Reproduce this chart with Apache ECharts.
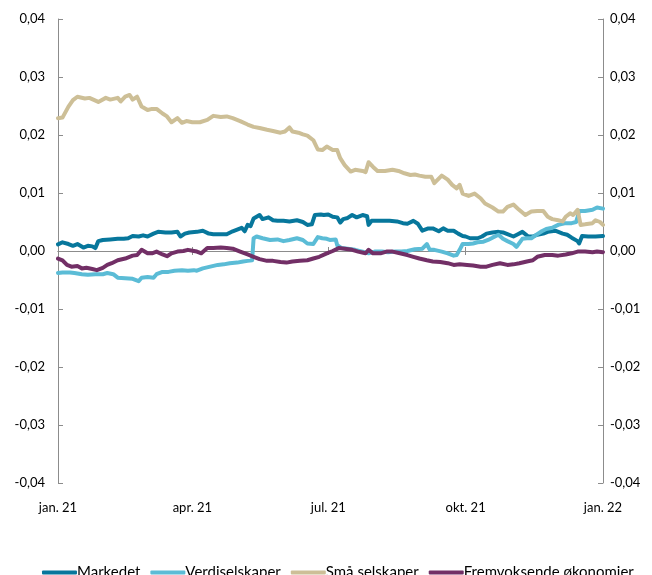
<!DOCTYPE html>
<html><head><meta charset="utf-8">
<script src="https://cdn.jsdelivr.net/npm/echarts@6/dist/echarts.min.js"></script>
<style>html,body{margin:0;padding:0;background:#fff}#c{width:652px;height:575px}</style>
</head><body><div id="c"></div>
<script>
const tickDates = ['2021-01-01','2021-04-01','2021-07-01','2021-10-01','2022-01-01'];
const tickLabels = ['jan. 21','apr. 21','jul. 21','okt. 21','jan. 22'];
const seriesNames = ['Markedet','Verdiselskaper','Små selskaper','Fremvoksende økonomier'];
const seriesColors = ['#07779c','#5bbcd6','#cdbf97','#722f66'];

const markedet = [
['2021-01-01',0.00115],['2021-01-04',0.0015],['2021-01-08',0.0012],['2021-01-11',0.0009],['2021-01-14',0.0012],
['2021-01-18',0.0006],['2021-01-21',0.0009],['2021-01-24',0.0008],['2021-01-26',0.0005],['2021-01-28',0.0017],
['2021-01-31',0.0019],['2021-02-05',0.0020],['2021-02-10',0.0021],['2021-02-14',0.0021],['2021-02-17',0.0022],
['2021-02-20',0.0026],['2021-02-24',0.0025],['2021-02-27',0.0027],['2021-03-02',0.0025],['2021-03-06',0.0030],
['2021-03-09',0.0033],['2021-03-14',0.0032],['2021-03-18',0.0032],['2021-03-22',0.0033],['2021-03-24',0.0025],
['2021-03-27',0.0030],['2021-03-30',0.0032],['2021-04-04',0.0033],['2021-04-08',0.0035],['2021-04-12',0.0030],
['2021-04-15',0.0029],['2021-04-20',0.0029],['2021-04-24',0.0029],['2021-04-28',0.0034],['2021-05-01',0.0037],
['2021-05-04',0.0040],['2021-05-06',0.0034],['2021-05-08',0.0045],['2021-05-10',0.0043],['2021-05-12',0.0056],
['2021-05-14',0.0059],['2021-05-16',0.0062],['2021-05-18',0.0055],['2021-05-22',0.0058],['2021-05-25',0.0053],
['2021-05-28',0.0052],['2021-06-01',0.0052],['2021-06-05',0.0051],['2021-06-10',0.0053],['2021-06-14',0.0050],
['2021-06-17',0.0045],['2021-06-20',0.0046],['2021-06-22',0.0062],['2021-06-26',0.0063],['2021-06-28',0.0062],
['2021-07-01',0.0063],['2021-07-04',0.0059],['2021-07-07',0.0058],['2021-07-09',0.0049],['2021-07-11',0.0055],
['2021-07-14',0.0057],['2021-07-17',0.0062],['2021-07-20',0.0058],['2021-07-24',0.0062],['2021-07-27',0.0060],
['2021-07-28',0.0045],['2021-07-30',0.0052],['2021-08-03',0.0052],['2021-08-07',0.0052],['2021-08-11',0.0052],
['2021-08-16',0.0051],['2021-08-20',0.0048],['2021-08-23',0.0047],['2021-08-27',0.0052],['2021-08-30',0.0047],
['2021-09-02',0.0035],['2021-09-06',0.0039],['2021-09-09',0.0039],['2021-09-13',0.0034],['2021-09-16',0.0039],
['2021-09-19',0.0035],['2021-09-23',0.0035],['2021-09-26',0.0030],['2021-09-29',0.0026],['2021-10-01',0.0025],
['2021-10-04',0.0022],['2021-10-09',0.0022],['2021-10-12',0.0025],['2021-10-15',0.0030],['2021-10-19',0.0032],
['2021-10-23',0.0033],['2021-10-26',0.0032],['2021-10-29',0.0029],['2021-11-02',0.0025],['2021-11-05',0.0029],
['2021-11-08',0.0033],['2021-11-12',0.0025],['2021-11-15',0.0025],['2021-11-18',0.0028],['2021-11-22',0.0030],
['2021-11-25',0.0033],['2021-11-30',0.0035],['2021-12-05',0.0030],['2021-12-08',0.0028],['2021-12-11',0.0023],
['2021-12-15',0.0017],['2021-12-16',0.0013],['2021-12-18',0.0026],['2021-12-22',0.0025],['2021-12-27',0.0025],
['2022-01-01',0.0026]
];

const verdiselskaper = [
['2021-01-01',-0.0038],['2021-01-04',-0.0037],['2021-01-09',-0.0037],['2021-01-12',-0.0038],['2021-01-17',-0.0040],
['2021-01-21',-0.0041],['2021-01-26',-0.0040],['2021-01-31',-0.0040],['2021-02-03',-0.0038],['2021-02-07',-0.0040],
['2021-02-10',-0.0046],['2021-02-15',-0.0047],['2021-02-20',-0.0048],['2021-02-24',-0.0052],['2021-02-26',-0.0046],
['2021-03-02',-0.0045],['2021-03-06',-0.0046],['2021-03-08',-0.0040],['2021-03-12',-0.0036],['2021-03-16',-0.0036],
['2021-03-20',-0.0034],['2021-03-25',-0.0033],['2021-03-29',-0.0034],['2021-04-02',-0.0033],['2021-04-04',-0.0034],
['2021-04-08',-0.0030],['2021-04-13',-0.0027],['2021-04-18',-0.0024],['2021-04-22',-0.0023],['2021-04-26',-0.0021],
['2021-05-01',-0.0020],['2021-05-05',-0.0018],['2021-05-08',-0.0017],['2021-05-11',-0.0016],['2021-05-12',0.0022],
['2021-05-14',0.0025],['2021-05-18',0.0022],['2021-05-23',0.0019],['2021-05-28',0.0020],['2021-06-01',0.0017],
['2021-06-05',0.0019],['2021-06-10',0.0022],['2021-06-14',0.0019],['2021-06-17',0.0013],['2021-06-21',0.0012],
['2021-06-24',0.0024],['2021-06-27',0.0022],['2021-06-30',0.0021],['2021-07-02',0.0019],['2021-07-06',0.0020],
['2021-07-07',0.0010],['2021-07-10',0.0005],['2021-07-14',0.0004],['2021-07-19',0.0002],['2021-07-24',-0.0001],
['2021-07-28',-0.0004],['2021-08-01',-0.0001],['2021-08-06',-0.0001],['2021-08-10',-0.0002],['2021-08-15',-0.0001],
['2021-08-19',-0.0001],['2021-08-23',0.0000],['2021-08-28',0.0003],['2021-09-02',0.0004],['2021-09-05',0.0012],
['2021-09-07',0.0002],['2021-09-10',0.0002],['2021-09-15',-0.0001],['2021-09-19',-0.0004],['2021-09-23',-0.0008],
['2021-09-25',-0.0007],['2021-09-27',0.0002],['2021-09-29',0.0012],['2021-10-03',0.0012],['2021-10-06',0.0013],
['2021-10-09',0.0015],['2021-10-13',0.0016],['2021-10-16',0.0019],['2021-10-19',0.0023],['2021-10-23',0.0028],
['2021-10-26',0.0021],['2021-10-29',0.0017],['2021-11-02',0.0012],['2021-11-04',0.0007],['2021-11-08',0.0021],
['2021-11-11',0.0022],['2021-11-14',0.0022],['2021-11-18',0.0029],['2021-11-21',0.0034],['2021-11-24',0.0038],
['2021-11-28',0.0040],['2021-12-02',0.0045],['2021-12-07',0.0048],['2021-12-11',0.0048],['2021-12-14',0.0050],
['2021-12-15',0.0059],['2021-12-16',0.0069],['2021-12-20',0.0069],['2021-12-25',0.0071],['2021-12-28',0.0075],
['2022-01-01',0.0073]
];

const smaSelskaper = [
['2021-01-01',0.0229],['2021-01-04',0.0230],['2021-01-08',0.0249],['2021-01-11',0.0260],['2021-01-14',0.0266],
['2021-01-19',0.0263],['2021-01-22',0.0264],['2021-01-28',0.0257],['2021-02-02',0.0264],['2021-02-05',0.0261],
['2021-02-10',0.0264],['2021-02-12',0.0258],['2021-02-15',0.0266],['2021-02-18',0.0269],['2021-02-20',0.0261],
['2021-02-23',0.0266],['2021-02-26',0.0249],['2021-03-02',0.0243],['2021-03-05',0.0245],['2021-03-08',0.0245],
['2021-03-12',0.0237],['2021-03-15',0.0232],['2021-03-18',0.0222],['2021-03-22',0.0229],['2021-03-25',0.0221],
['2021-03-28',0.0224],['2021-04-01',0.0222],['2021-04-06',0.0222],['2021-04-11',0.0226],['2021-04-15',0.0233],
['2021-04-20',0.0231],['2021-04-24',0.0232],['2021-04-28',0.0229],['2021-05-03',0.0224],['2021-05-08',0.0218],
['2021-05-12',0.0214],['2021-05-16',0.0212],['2021-05-21',0.0209],['2021-05-25',0.0207],['2021-05-30',0.0204],
['2021-06-02',0.0206],['2021-06-05',0.0213],['2021-06-07',0.0206],['2021-06-11',0.0204],['2021-06-14',0.0201],
['2021-06-17',0.0199],['2021-06-21',0.0191],['2021-06-24',0.0175],['2021-06-27',0.0174],['2021-06-30',0.0180],
['2021-07-04',0.0174],['2021-07-07',0.0174],['2021-07-09',0.0160],['2021-07-12',0.0148],['2021-07-16',0.0137],
['2021-07-19',0.0140],['2021-07-24',0.0138],['2021-07-26',0.0136],['2021-07-28',0.0153],['2021-07-31',0.0145],
['2021-08-03',0.0138],['2021-08-08',0.0138],['2021-08-13',0.0140],['2021-08-17',0.0138],['2021-08-21',0.0134],
['2021-08-25',0.0131],['2021-08-28',0.0132],['2021-08-31',0.0130],['2021-09-04',0.0128],['2021-09-08',0.0128],
['2021-09-10',0.0117],['2021-09-15',0.0130],['2021-09-19',0.0123],['2021-09-22',0.0114],['2021-09-25',0.0108],
['2021-09-27',0.0114],['2021-09-29',0.0099],['2021-10-03',0.0095],['2021-10-07',0.0099],['2021-10-11',0.0091],
['2021-10-14',0.0082],['2021-10-19',0.0075],['2021-10-23',0.0068],['2021-10-26',0.0068],['2021-10-29',0.0076],
['2021-11-02',0.0080],['2021-11-05',0.0073],['2021-11-10',0.0062],['2021-11-14',0.0068],['2021-11-18',0.0069],
['2021-11-22',0.0069],['2021-11-25',0.0059],['2021-11-28',0.0055],['2021-12-02',0.0053],['2021-12-05',0.0051],
['2021-12-07',0.0059],['2021-12-10',0.0065],['2021-12-12',0.0062],['2021-12-15',0.0071],['2021-12-16',0.0074],
['2021-12-17',0.0045],['2021-12-20',0.0046],['2021-12-25',0.0048],['2021-12-27',0.0053],['2021-12-30',0.0050],
['2022-01-01',0.0045]
];

const fremvoksende = [
['2021-01-01',-0.0013],['2021-01-04',-0.0016],['2021-01-07',-0.0024],['2021-01-10',-0.0027],['2021-01-14',-0.0026],
['2021-01-17',-0.0030],['2021-01-20',-0.0029],['2021-01-24',-0.0031],['2021-01-27',-0.0033],['2021-01-31',-0.0029],
['2021-02-03',-0.0024],['2021-02-06',-0.0021],['2021-02-10',-0.0016],['2021-02-15',-0.0013],['2021-02-20',-0.0008],
['2021-02-23',-0.0007],['2021-02-26',0.0002],['2021-03-02',-0.0004],['2021-03-05',-0.0004],['2021-03-08',-0.0001],
['2021-03-12',-0.0006],['2021-03-15',-0.0009],['2021-03-18',-0.0004],['2021-03-22',-0.0001],['2021-03-26',0.0000],
['2021-03-29',0.0002],['2021-04-02',0.0000],['2021-04-04',-0.0001],['2021-04-07',-0.0004],['2021-04-11',0.0005],
['2021-04-15',0.0005],['2021-04-20',0.0006],['2021-04-24',0.0005],['2021-04-28',0.0004],['2021-05-03',-0.0001],
['2021-05-08',-0.0006],['2021-05-12',-0.0010],['2021-05-16',-0.0014],['2021-05-21',-0.0017],['2021-05-25',-0.0017],
['2021-05-30',-0.0019],['2021-06-03',-0.0020],['2021-06-07',-0.0018],['2021-06-12',-0.0017],['2021-06-17',-0.0016],
['2021-06-21',-0.0013],['2021-06-25',-0.0010],['2021-06-30',-0.0004],['2021-07-04',0.0000],['2021-07-08',0.0005],
['2021-07-12',0.0004],['2021-07-17',0.0002],['2021-07-21',-0.0001],['2021-07-26',-0.0004],['2021-07-28',0.0002],
['2021-07-31',-0.0004],['2021-08-05',-0.0004],['2021-08-09',-0.0001],['2021-08-13',-0.0001],['2021-08-18',-0.0004],
['2021-08-23',-0.0007],['2021-08-27',-0.0010],['2021-08-31',-0.0013],['2021-09-05',-0.0016],['2021-09-09',-0.0018],
['2021-09-14',-0.0019],['2021-09-19',-0.0021],['2021-09-23',-0.0024],['2021-09-27',-0.0023],['2021-10-02',-0.0024],
['2021-10-06',-0.0025],['2021-10-11',-0.0027],['2021-10-15',-0.0027],['2021-10-19',-0.0024],['2021-10-24',-0.0021],
['2021-10-29',-0.0024],['2021-11-02',-0.0023],['2021-11-06',-0.0021],['2021-11-11',-0.0018],['2021-11-15',-0.0016],
['2021-11-18',-0.0010],['2021-11-23',-0.0007],['2021-11-28',-0.0007],['2021-12-02',-0.0008],['2021-12-07',-0.0006],
['2021-12-11',-0.0004],['2021-12-15',-0.0001],['2021-12-16',0.0002],['2021-12-20',-0.0001],['2021-12-25',-0.0002],
['2021-12-28',-0.0001],['2022-01-01',-0.0002]
];

const seriesData = [markedet, verdiselskaper, smaSelskaper, fremvoksende];

const t = s => new Date(s + 'T00:00:00').getTime();
const tickValues = tickDates.map(t);
const xMin = tickValues[0], xMax = tickValues[tickValues.length - 1];
const FONT = 'Lato';
const AXIS_GREY = '#8c8c8c';

const fmtY = v => (Math.abs(v) < 1e-9 ? 0 : v).toFixed(2).replace('.', ',');
const fmtX = v => {
  let best = 0;
  tickValues.forEach((tv, i) => { if (Math.abs(tv - v) < Math.abs(tickValues[best] - v)) best = i; });
  return tickLabels[best];
};

const zeroAxis = inside => ({
  type: 'value', gridIndex: 0, position: 'bottom', min: xMin, max: xMax,
  axisLine: { show: true, onZero: true, onZeroAxisIndex: 0, lineStyle: { color: AXIS_GREY, width: 1 } },
  axisTick: { show: true, inside: inside, length: 4, customValues: tickValues, lineStyle: { color: AXIS_GREY, width: 1 } },
  axisLabel: { show: false },
  splitLine: { show: false }
});

const yAxisBase = (pos, margin) => ({
  type: 'value', position: pos, min: -0.04, max: 0.04, interval: 0.01,
  axisLine: { show: true, onZero: false, lineStyle: { color: AXIS_GREY, width: 1 } },
  axisTick: { show: true, inside: true, length: 5, lineStyle: { color: AXIS_GREY, width: 1 } },
  axisLabel: { formatter: fmtY, color: '#000', fontFamily: FONT, fontSize: 13, margin: margin },
  splitLine: { show: false }
});

const chart = echarts.init(document.getElementById('c'), null, { renderer: 'canvas' });
chart.setOption({
  animation: false,
  backgroundColor: '#fff',
  grid: { left: 58, right: 49, top: 19, bottom: 92, containLabel: false, outerBoundsMode: 'none' },
  legend: {
    show: true, left: 37, top: 560, itemGap: 10, itemWidth: 35, itemHeight: 4, icon: 'roundRect',
    textStyle: { color: '#000', fontFamily: FONT, fontSize: 15, padding: [0, 0, 0, -5] },
    data: seriesNames
  },
  xAxis: [
    {
      type: 'value', gridIndex: 0, position: 'bottom', min: xMin, max: xMax,
      axisLine: { show: false, onZero: false },
      axisTick: { show: false },
      axisLabel: { show: true, customValues: tickValues, formatter: fmtX, color: '#000', fontFamily: FONT, fontSize: 13, margin: 18, hideOverlap: false },
      splitLine: { show: false }
    },
    zeroAxis(false),
    zeroAxis(true)
  ],
  yAxis: [yAxisBase('left', 13), yAxisBase('right', 7)],
  series: seriesNames.map((name, i) => ({
    name: name, type: 'line', xAxisIndex: 0, yAxisIndex: 0,
    data: seriesData[i].map(p => [t(p[0]), p[1]]), showSymbol: false, symbol: 'none', smooth: false,
    color: seriesColors[i],
    lineStyle: { color: seriesColors[i], width: 4, cap: 'round', join: 'round' },
    emphasis: { disabled: true }
  }))
});
</script>
</body></html>
